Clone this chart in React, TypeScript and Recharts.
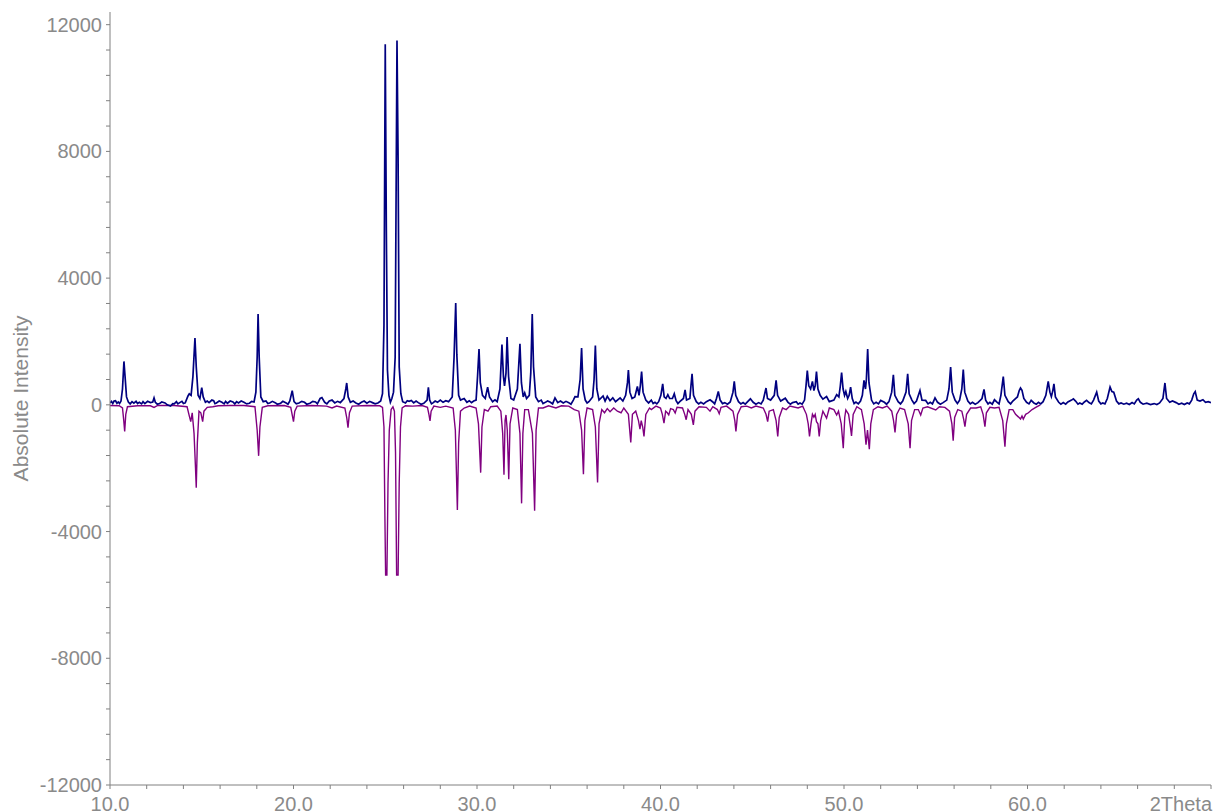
import { LineChart, Line, XAxis, YAxis, Label } from 'recharts'

// measured pattern (blue), [2theta, counts]
const measured10to24: [number, number][] = [
  [10.0, 60], [10.08, 110], [10.15, 40], [10.22, 120], [10.3, 130], [10.38, 50], [10.45, 90], [10.52, 40],
  [10.6, 120], [10.68, 500], [10.76, 1370], [10.82, 900], [10.9, 250], [11.0, 90], [11.1, 30], [11.2, 100],
  [11.3, 50], [11.42, 110], [11.5, 40], [11.6, 80], [11.72, 30], [11.8, 100], [11.9, 40], [12.05, 110], [12.2, 70],
  [12.33, 90], [12.4, 220], [12.47, 80], [12.58, 20], [12.7, 40], [12.82, 90], [13.0, 60], [13.12, 0], [13.3, -40],
  [13.42, 40], [13.5, 30], [13.62, 100], [13.7, 30], [13.8, 70], [13.92, 110], [14.0, 40], [14.1, 60], [14.25, 280],
  [14.32, 350], [14.42, 300], [14.52, 900], [14.63, 2110], [14.7, 1200], [14.8, 300], [14.9, 200], [15.0, 540],
  [15.08, 250], [15.2, 80], [15.3, 120], [15.4, 70], [15.55, 150], [15.65, 130], [15.72, 40], [15.8, 60], [15.95, 120],
  [16.1, 80], [16.22, 30], [16.3, 110], [16.4, 50], [16.55, 120], [16.7, 90], [16.8, 30], [16.9, 100], [17.0, 60],
  [17.15, 120], [17.3, 80], [17.45, 30], [17.6, 50], [17.72, 110], [17.85, 90], [17.95, 400], [18.02, 1500],
  [18.07, 2870], [18.13, 1500], [18.22, 250], [18.35, 100], [18.5, 120], [18.6, 40], [18.7, 60], [18.85, 110],
  [19.0, 70], [19.12, 20], [19.3, 50], [19.42, 110], [19.6, 60], [19.7, 20], [19.8, 120], [19.93, 450], [20.03, 100],
  [20.15, 30], [20.3, 60], [20.45, 110], [20.6, 80], [20.72, 20], [20.9, 50], [21.05, 110], [21.2, 90], [21.3, 30],
  [21.45, 200], [21.55, 230], [21.7, 80], [21.82, 30], [21.95, 120], [22.1, 150], [22.25, 60], [22.4, 110],
  [22.55, 70], [22.75, 200], [22.85, 500], [22.9, 690], [22.98, 250], [23.1, 80], [23.25, 120], [23.4, 60],
  [23.55, 20], [23.7, 80], [23.85, 120], [24.0, 50], [24.15, 110], [24.3, 70], [24.45, 30], [24.6, 60],
]

const measured24to40: [number, number][] = [
  [24.75, 120], [24.85, 350], [24.93, 2500], [25.0, 11380], [25.06, 5500], [25.12, 1100], [25.2, 300], [25.28, 80],
  [25.36, 200], [25.45, 400], [25.54, 1500], [25.6, 7500], [25.64, 11500], [25.7, 7800], [25.76, 1200], [25.85, 350],
  [25.95, 100], [26.1, 60], [26.2, 130], [26.3, 110], [26.42, 140], [26.55, 60], [26.68, 120], [26.8, 70],
  [26.95, 20], [27.1, 50], [27.28, 150], [27.35, 550], [27.42, 150], [27.52, 30], [27.6, 60], [27.72, 120],
  [27.85, 80], [28.0, 150], [28.15, 80], [28.3, 130], [28.45, 100], [28.65, 250], [28.75, 1500], [28.84, 3210],
  [28.9, 1600], [29.0, 300], [29.1, 150], [29.3, 200], [29.45, 80], [29.58, 130], [29.7, 70], [29.82, 120],
  [29.95, 150], [30.03, 900], [30.11, 1760], [30.18, 700], [30.3, 300], [30.45, 200], [30.58, 560], [30.68, 250],
  [30.85, 100], [30.98, 160], [31.1, 100], [31.25, 500], [31.36, 1900], [31.44, 900], [31.5, 600], [31.58, 1000],
  [31.64, 2140], [31.72, 900], [31.85, 200], [32.0, 150], [32.2, 500], [32.34, 1930], [32.42, 700], [32.52, 250],
  [32.6, 380], [32.7, 200], [32.85, 300], [32.93, 1000], [33.01, 2870], [33.08, 1200], [33.2, 250], [33.35, 100],
  [33.5, 150], [33.6, 40], [33.7, 70], [33.85, 120], [34.0, 80], [34.12, 30], [34.25, 220], [34.4, 70], [34.55, 120],
  [34.7, 60], [34.85, 110], [35.0, 70], [35.12, 20], [35.25, 150], [35.34, 260], [35.5, 250], [35.62, 800],
  [35.7, 1790], [35.78, 500], [35.9, 150], [36.0, 60], [36.1, 100], [36.3, 250], [36.38, 800], [36.45, 1870],
  [36.53, 500], [36.65, 150], [36.87, 280], [36.98, 120], [37.1, 270], [37.25, 130], [37.4, 220], [37.55, 100],
  [37.8, 220], [37.95, 120], [38.1, 300], [38.2, 700], [38.25, 1100], [38.33, 400], [38.45, 200], [38.6, 250],
  [38.74, 580], [38.83, 300], [38.9, 600], [38.97, 1050], [39.05, 400], [39.2, 150], [39.35, 60], [39.5, 150],
  [39.6, 40], [39.7, 80], [39.8, 30], [39.9, 100],
]

const measured40to55: [number, number][] = [
  [40.02, 300], [40.12, 660], [40.2, 250], [40.3, 200], [40.4, 320], [40.5, 200], [40.65, 200], [40.75, 350],
  [40.85, 130], [40.95, 40], [41.05, 100], [41.25, 200], [41.34, 470], [41.42, 150], [41.6, 200], [41.66, 600],
  [41.72, 980], [41.8, 300], [41.95, 100], [42.08, 30], [42.2, 80], [42.35, 30], [42.5, 100], [42.7, 160],
  [42.85, 90], [42.95, 30], [43.05, 200], [43.15, 420], [43.25, 150], [43.38, 40], [43.5, 70], [43.65, 20],
  [43.8, 90], [43.95, 400], [44.02, 740], [44.1, 300], [44.25, 100], [44.38, 30], [44.5, 70], [44.62, 20],
  [44.75, 100], [44.9, 190], [45.05, 80], [45.2, 20], [45.35, 70], [45.48, 30], [45.6, 150], [45.75, 530],
  [45.83, 200], [46.0, 150], [46.2, 300], [46.3, 770], [46.38, 300], [46.55, 120], [46.8, 210], [46.95, 80],
  [47.08, 20], [47.2, 70], [47.4, 100], [47.5, 20], [47.6, 60], [47.72, 20], [47.85, 150], [47.93, 600],
  [48.0, 1080], [48.08, 600], [48.18, 500], [48.28, 740], [48.36, 450], [48.43, 600], [48.5, 1050], [48.58, 500],
  [48.7, 300], [48.85, 180], [49.05, 260], [49.2, 100], [49.45, 150], [49.6, 320], [49.72, 250], [49.8, 600],
  [49.87, 1020], [49.95, 500], [50.03, 300], [50.1, 420], [50.2, 200], [50.28, 300], [50.36, 560], [50.45, 200],
  [50.55, 40], [50.65, 90], [50.78, 30], [50.9, 120], [51.0, 300], [51.09, 770], [51.17, 500], [51.22, 800],
  [51.29, 1760], [51.36, 700], [51.5, 150], [51.62, 30], [51.75, 80], [51.88, 30], [52.0, 140], [52.2, 80],
  [52.32, 20], [52.45, 100], [52.6, 400], [52.69, 950], [52.77, 300], [52.95, 100], [53.08, 30], [53.2, 120],
  [53.38, 400], [53.47, 980], [53.55, 350], [53.7, 150], [53.82, 40], [53.95, 120], [54.14, 450], [54.25, 150],
  [54.45, 140], [54.58, 30], [54.7, 80], [54.82, 30], [54.96, 220], [55.1, 80], [55.25, 20], [55.4, 70], [55.6, 150],
]

const measured55to70: [number, number][] = [
  [55.72, 500], [55.81, 1190], [55.9, 400], [56.05, 150], [56.18, 40], [56.3, 150], [56.42, 500], [56.5, 1110],
  [56.58, 400], [56.75, 120], [56.88, 30], [57.0, 80], [57.15, 20], [57.3, 70], [57.52, 200], [57.63, 490],
  [57.72, 150], [57.85, 30], [57.95, 80], [58.08, 20], [58.2, 160], [58.35, 80], [58.45, 30], [58.55, 300],
  [58.68, 890], [58.77, 300], [58.95, 100], [59.08, 30], [59.2, 120], [59.45, 250], [59.55, 450], [59.62, 530],
  [59.7, 460], [59.8, 200], [59.95, 80], [60.08, 30], [60.2, 140], [60.35, 60], [60.48, 20], [60.6, 80],
  [60.72, 30], [60.85, 100], [61.0, 300], [61.13, 740], [61.22, 400], [61.3, 260], [61.38, 450], [61.44, 660],
  [61.52, 250], [61.7, 80], [61.82, 20], [61.95, 70], [62.08, 20], [62.2, 90], [62.4, 150], [62.5, 190],
  [62.62, 120], [62.75, 20], [62.85, 60], [62.98, 20], [63.1, 90], [63.22, 140], [63.35, 70], [63.48, 30],
  [63.6, 150], [63.77, 400], [63.88, 120], [64.0, 30], [64.1, 60], [64.22, 30], [64.35, 200], [64.5, 560],
  [64.6, 420], [64.7, 400], [64.85, 120], [64.98, 30], [65.1, 60], [65.25, 20], [65.4, 50], [65.55, 10],
  [65.7, 70], [65.82, 30], [65.95, 150], [66.04, 190], [66.15, 80], [66.3, 20], [66.5, 50], [66.7, 10], [66.9, 40],
  [67.05, 10], [67.2, 60], [67.38, 200], [67.49, 690], [67.58, 200], [67.75, 80], [67.9, 120], [68.1, 70],
  [68.25, 20], [68.4, 50], [68.55, 10], [68.7, 60], [68.82, 30], [68.95, 150], [69.06, 350], [69.14, 420],
  [69.25, 150], [69.4, 120], [69.56, 160], [69.7, 80], [69.85, 100], [70.0, 70],
]

// reference pattern (purple), drawn downwards
const reference10to24: [number, number][] = [
  [10.0, -20], [10.5, -30], [10.68, -100], [10.75, -500], [10.8, -840], [10.86, -300], [10.95, -60], [11.5, -30],
  [12.2, -30], [12.4, -80], [12.6, -20], [13.5, -20], [14.2, -60], [14.32, -350], [14.4, -530], [14.48, -250],
  [14.58, -900], [14.66, -2000], [14.7, -2620], [14.76, -1200], [14.85, -200], [14.95, -250], [15.05, -530],
  [15.12, -200], [15.3, -80], [15.6, -60], [15.9, -30], [16.5, -20], [17.3, -20], [17.9, -60], [18.02, -800],
  [18.1, -1610], [18.17, -700], [18.3, -80], [18.6, -30], [19.5, -20], [19.85, -80], [19.94, -350], [20.0, -530],
  [20.07, -200], [20.2, -40], [21.0, -20], [21.8, -40], [22.1, -100], [22.35, -40], [22.8, -100], [22.9, -400],
  [22.97, -720], [23.05, -250], [23.2, -40], [24.0, -20], [24.7, -30],
]

const reference24to40: [number, number][] = [
  [24.85, -80], [24.93, -700], [24.98, -3500], [25.02, -5370], [25.09, -5370], [25.15, -2500], [25.22, -800],
  [25.32, -150], [25.42, -60], [25.5, -200], [25.56, -1500], [25.62, -5370], [25.7, -5370], [25.76, -2500],
  [25.83, -700], [25.92, -100], [26.1, -30], [26.5, -40], [27.0, -20], [27.3, -80], [27.38, -300], [27.44, -510],
  [27.5, -200], [27.65, -40], [28.0, -80], [28.3, -40], [28.7, -100], [28.82, -800], [28.93, -3320], [29.0, -1200],
  [29.1, -200], [29.3, -100], [29.6, -40], [29.95, -100], [30.08, -600], [30.2, -2140], [30.27, -700], [30.4, -150],
  [30.6, -200], [30.75, -60], [31.1, -40], [31.3, -200], [31.4, -900], [31.47, -2210], [31.53, -500], [31.58, -320],
  [31.65, -800], [31.73, -2350], [31.8, -600], [31.95, -100], [32.2, -150], [32.34, -900], [32.43, -3110],
  [32.5, -900], [32.6, -150], [32.8, -150], [33.02, -900], [33.14, -3340], [33.22, -800], [33.35, -100], [33.6, -100],
  [33.9, -30], [34.3, -100], [34.6, -30], [35.0, -40], [35.3, -150], [35.55, -200], [35.7, -800], [35.8, -2190],
  [35.88, -500], [36.0, -100], [36.3, -150], [36.45, -700], [36.57, -2450], [36.65, -600], [36.8, -150],
  [36.95, -250], [37.1, -120], [37.25, -220], [37.45, -100], [37.65, -200], [37.85, -250], [38.0, -100],
  [38.25, -300], [38.38, -1190], [38.47, -300], [38.65, -200], [38.8, -500], [38.88, -770], [38.95, -500],
  [39.03, -700], [39.1, -1000], [39.2, -300], [39.4, -100], [39.5, -150], [39.75, -40],
]

const reference40to55: [number, number][] = [
  [40.0, -100], [40.1, -300], [40.19, -580], [40.28, -200], [40.37, -250], [40.45, -320], [40.55, -120],
  [40.7, -150], [40.8, -260], [40.9, -80], [41.2, -100], [41.32, -300], [41.4, -470], [41.5, -150], [41.68, -300],
  [41.79, -630], [41.88, -200], [42.1, -60], [42.5, -80], [42.7, -200], [42.85, -60], [43.1, -150], [43.2, -280],
  [43.3, -80], [43.6, -40], [43.95, -200], [44.05, -500], [44.11, -840], [44.2, -300], [44.4, -60], [44.7, -40],
  [44.95, -100], [45.2, -40], [45.6, -100], [45.75, -300], [45.84, -530], [45.92, -200], [46.15, -150], [46.3, -500],
  [46.39, -1000], [46.47, -400], [46.65, -100], [46.85, -150], [47.05, -40], [47.5, -100], [47.75, -40],
  [47.95, -300], [48.05, -600], [48.12, -1000], [48.2, -600], [48.28, -300], [48.36, -390], [48.43, -300],
  [48.5, -530], [48.58, -600], [48.65, -1000], [48.73, -500], [48.85, -200], [49.05, -420], [49.2, -100],
  [49.45, -150], [49.6, -320], [49.7, -200], [49.85, -600], [49.96, -1370], [50.04, -400], [50.1, -160],
  [50.25, -300], [50.35, -700], [50.41, -980], [50.5, -300], [50.7, -60], [50.95, -150], [51.1, -600], [51.2, -1260],
  [51.28, -800], [51.38, -1400], [51.46, -600], [51.6, -150], [51.85, -60], [52.1, -100], [52.35, -40], [52.6, -200],
  [52.7, -500], [52.78, -870], [52.87, -300], [53.05, -100], [53.3, -150], [53.5, -600], [53.6, -1370], [53.68, -500],
  [53.85, -150], [54.05, -150], [54.18, -320], [54.3, -100], [54.55, -60], [55.0, -160], [55.2, -60], [55.5, -80],
]

const reference55to61: [number, number][] = [
  [55.75, -200], [55.88, -600], [55.95, -1130], [56.03, -400], [56.2, -150], [56.42, -200], [56.52, -450],
  [56.59, -690], [56.68, -300], [56.9, -100], [57.2, -100], [57.45, -60], [57.58, -300], [57.68, -690], [57.76, -250],
  [57.95, -80], [58.2, -100], [58.45, -80], [58.65, -500], [58.77, -1320], [58.85, -600], [59.0, -150], [59.2, -150],
  [59.35, -300], [59.5, -380], [59.62, -450], [59.7, -350], [59.77, -450], [59.9, -300], [60.05, -250], [60.25, -150],
  [60.45, -80], [60.7, 0],
]

const yTicks = [
  -12000, -11200, -10400, -9600, -8800, -8000, -7200, -6400, -5600, -4800, -4000, -3200, -2400, -1600, -800, 0,
  800, 1600, 2400, 3200, 4000, 4800, 5600, 6400, 7200, 8000, 8800, 9600, 10400, 11200, 12000,
]
const yLabelled = [-12000, -8000, -4000, 0, 4000, 8000, 12000]

const xTicks = [10, 12, 14, 16, 18, 20, 22, 24, 26, 28, 30, 32, 34, 36, 38, 40, 42, 44, 46, 48, 50, 52, 54, 56, 58, 60, 62, 64, 66, 68, 70]
const xLabels: Record<number, string> = {
  10: '10.0', 20: '20.0', 30: '30.0', 40: '40.0', 50: '50.0', 60: '60.0', 70: '2Theta',
}

const toRows = (pts: [number, number][][]) => pts.flat().map(([x, y]) => ({ x, y }))
const measuredRows = toRows([measured10to24, measured24to40, measured40to55, measured55to70])
const referenceRows = toRows([reference10to24, reference24to40, reference40to55, reference55to61])

const grey = '#8a8a8a'
const font = '"Liberation Sans", Arial, sans-serif'

function YTick({ x, y, payload }: any) {
  if (!yLabelled.includes(payload.value)) return <g />
  return (
    <text x={x} y={y} textAnchor="end" dominantBaseline="central" fill={grey} fontSize={20} fontFamily={font}>
      {payload.value}
    </text>
  )
}

function XTick({ x, y, payload }: any) {
  const text = xLabels[payload.value]
  if (!text) return <g />
  const last = payload.value === 70
  return (
    <text x={last ? x + 1 : x} y={y} dy="0.72em" textAnchor={last ? 'end' : 'middle'} fill={grey} fontSize={20} fontFamily={font}>
      {text}
    </text>
  )
}

export default function App() {
  return (
    <div style={{ position: 'absolute', left: 0, top: 0, background: '#fff' }}>
      <LineChart width={1213} height={812} margin={{ top: 12, right: 2, left: 0, bottom: 0 }}>
        <XAxis
          dataKey="x"
          type="number"
          domain={[10, 70]}
          ticks={xTicks}
          interval={0}
          allowDataOverflow
          height={27}
          stroke="#808080"
          tickSize={4}
          tickMargin={8}
          tick={<XTick />}
        />
        <YAxis
          type="number"
          domain={[-12000, 12400]}
          ticks={yTicks}
          interval={0}
          allowDataOverflow
          width={110}
          stroke="#808080"
          tickSize={4}
          tickMargin={4}
          tick={<YTick />}
        >
          <Label
            content={({ viewBox }: any) => {
              const cx = viewBox.x + 20
              const cy = viewBox.y + viewBox.height / 2
              return (
                <text
                  x={cx}
                  y={cy}
                  transform={`rotate(-90 ${cx} ${cy})`}
                  textAnchor="middle"
                  dominantBaseline="central"
                  fill={grey}
                  fontSize={21}
                  fontFamily={font}
                >
                  Absolute Intensity
                </text>
              )
            }}
          />
        </YAxis>
        <Line
          data={referenceRows}
          dataKey="y"
          type="linear"
          stroke="#800080"
          strokeWidth={1.4}
          dot={false}
          isAnimationActive={false}
        />
        <Line
          data={measuredRows}
          dataKey="y"
          type="linear"
          stroke="#000080"
          strokeWidth={1.7}
          dot={false}
          isAnimationActive={false}
        />
      </LineChart>
    </div>
  )
}
